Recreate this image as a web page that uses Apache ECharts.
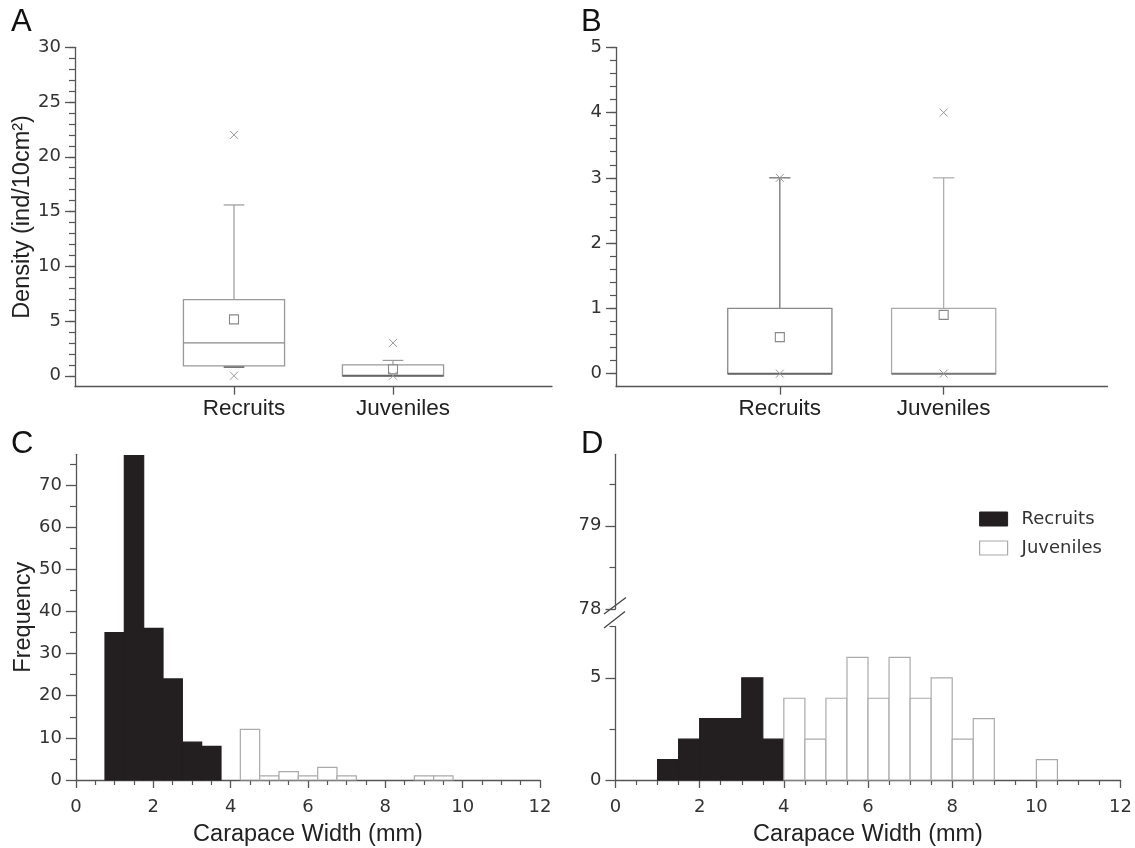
<!DOCTYPE html>
<html><head><meta charset="utf-8">
<script src="https://cdn.jsdelivr.net/npm/echarts@6/dist/echarts.min.js"></script>
<style>html,body{margin:0;padding:0;background:#fff}#c{width:1135px;height:848px}</style>
</head><body><div id="c"></div>
<script>
// ---------- data ----------
const groups = ['Recruits', 'Juveniles'];
const groupPos = [1, 2];
// Panel A – density box plots
const aQ1 = [0.9, 0];
const aMedian = [3, 0];
const aQ3 = [6.95, 1];
const aWhiskerLow = [0.8, 0];
const aWhiskerHigh = [15.6, 1.4];
const aMean = [5.15, 0.58];
const aMax = [22, 3];
const aMin = [0, 0];
// Panel B
const bQ1 = [0, 0];
const bMedian = [0, 0];
const bQ3 = [1, 1];
const bWhiskerLow = [0, 0];
const bWhiskerHigh = [3, 3];
const bMean = [0.56, 0.9];
const bMax = [3, 4];
const bMin = [0, 0];
// Panel C – histogram (bin centres, width 0.5)
const cRecruitsCenter = [1, 1.5, 2, 2.5, 3, 3.5];
const cRecruitsFreq = [35, 77, 36, 24, 9, 8];
const cJuvenilesCenter = [4.5, 5, 5.5, 6, 6.5, 7, 9, 9.5];
const cJuvenilesFreq = [12, 1, 2, 1, 3, 1, 1, 1];
// Panel D – histogram (bin starts, width 0.5)
const dRecruitsStart = [1, 1.5, 2, 2.5, 3, 3.5];
const dRecruitsFreq = [1, 2, 3, 3, 5, 2];
const dJuvenilesStart = [4, 4.5, 5, 5.5, 6, 6.5, 7, 7.5, 8, 8.5, 10];
const dJuvenilesFreq = [4, 2, 4, 6, 4, 6, 4, 5, 2, 3, 1];
const binWidth = 0.5;
// ticks
const aYMajor = [0, 5, 10, 15, 20, 25, 30];
const aYMinor = [0,1,2,3,4,5,6,7,8,9,10,11,12,13,14,15,16,17,18,19,20,21,22,23,24,25,26,27,28,29,30];
const bYMajor = [0, 1, 2, 3, 4, 5];
const bYMinor = [0,0.2,0.4,0.6,0.8,1,1.2,1.4,1.6,1.8,2,2.2,2.4,2.6,2.8,3,3.2,3.4,3.6,3.8,4,4.2,4.4,4.6,4.8,5];
const cYMajor = [0, 10, 20, 30, 40, 50, 60, 70];
const cYMinor = [5, 15, 25, 35, 45, 55, 65, 75];
const dLowMajor = [0, 5];
const dLowMinor = [2.5, 7.5];
const dHighMajor = [78, 79];
const dHighMinor = [78.5, 79.5];

// ---------- styling helpers ----------
const AX = '#555';
const TICKFONT = {fontFamily: 'DejaVu Sans', fontSize: 18, color: '#333'};
const NAMEFONT = {fontFamily: 'Liberation Sans', fontSize: 23.5, color: '#222'};
const halfBox = 0.318, halfCap = 0.065;

function yMain(grid, min, max, ticks, extra) {
  return Object.assign({
    type: 'value', gridIndex: grid, min, max, position: 'left',
    axisLine: {show: true, onZero: false, lineStyle: {color: AX, width: 1.3}},
    axisTick: {show: true, customValues: ticks, length: 10, lineStyle: {color: AX, width: 1.3}},
    axisLabel: {show: true, customValues: ticks, margin: 14, ...TICKFONT},
    splitLine: {show: false}
  }, extra || {});
}
function yMinor(grid, min, max, ticks) {
  return {
    type: 'value', gridIndex: grid, min, max, position: 'left', offset: 0,
    axisLine: {show: false},
    axisTick: {show: true, customValues: ticks, length: 6, lineStyle: {color: AX, width: 1.2}},
    axisLabel: {show: false}, splitLine: {show: false}
  };
}
function xCat(grid, shift) {
  return {
    type: 'value', gridIndex: grid, min: 0, max: 3,
    axisLine: {show: true, onZero: false, lineStyle: {color: AX, width: 1.3}},
    axisTick: {show: true, customValues: groupPos, length: 8, lineStyle: {color: AX, width: 1.3}},
    axisLabel: {show: true, customValues: groupPos, margin: 11,
      formatter: v => groups[Math.round(v) - 1] || '',
      padding: [0, 0, 0, shift],
      fontFamily: 'Liberation Sans', fontSize: 22.5, color: '#222'},
    splitLine: {show: false}
  };
}
function xWidth(grid) {
  return {
    type: 'value', gridIndex: grid, min: 0, max: 12, interval: 2,
    name: 'Carapace Width (mm)', nameLocation: 'middle', nameGap: 43, nameTextStyle: NAMEFONT,
    axisLine: {show: true, onZero: false, lineStyle: {color: AX, width: 1.3}},
    axisTick: {show: true, length: 8, lineStyle: {color: AX, width: 1.3}},
    minorTick: {show: true, splitNumber: 4, length: 5, lineStyle: {color: AX, width: 1.2}},
    axisLabel: {show: true, margin: 18, ...TICKFONT},
    splitLine: {show: false}, minorSplitLine: {show: false}
  };
}

function boxData(q1, med, q3, wl, wh, mean, mx, mn) {
  return groups.map((g, i) => [groupPos[i], q1[i], med[i], q3[i], wl[i], wh[i], mean[i], mx[i], mn[i]]);
}
function makeBoxRender(st) {
  return function (params, api) {
    const i = params.dataIndex;
    const x = api.value(0), q1 = api.value(1), med = api.value(2), q3 = api.value(3),
          wl = api.value(4), wh = api.value(5), mean = api.value(6), mx = api.value(7), mn = api.value(8);
    const c = (a, b) => api.coord([a, b]);
    const line = (p, q, stroke, w) => ({type: 'line', shape: {x1: p[0], y1: p[1], x2: q[0], y2: q[1]}, style: {stroke, lineWidth: w || 1.2}});
    const kids = [];
    if (wh > q3) kids.push(line(c(x, q3), c(x, wh), st.whisker[i]));
    kids.push(line(c(x - halfCap, wh), c(x + halfCap, wh), st.whisker[i]));
    if (wl < q1) {
      kids.push(line(c(x, q1), c(x, wl), st.whisker[i]));
      kids.push(line(c(x - halfCap, wl), c(x + halfCap, wl), st.lowCap[i], 1.8));
    }
    const tl = c(x - halfBox, q3), br = c(x + halfBox, q1);
    kids.push({type: 'rect', shape: {x: tl[0], y: tl[1], width: br[0] - tl[0], height: br[1] - tl[1]},
      style: {fill: 'rgba(255,255,255,0)', stroke: st.box[i], lineWidth: 1.3}});
    kids.push(line(c(x - halfBox, med), c(x + halfBox, med), st.median[i], med <= q1 ? 2 : 1.3));
    const pm = c(x, mean);
    kids.push({type: 'rect', shape: {x: pm[0] - 4.5, y: pm[1] - 4.5, width: 9, height: 9},
      style: {fill: '#fff', stroke: '#888', lineWidth: 1.1}});
    [mx, mn].forEach(v => {
      const p = c(x, v);
      kids.push(line([p[0] - 4, p[1] - 4], [p[0] + 4, p[1] + 4], '#999', 1));
      kids.push(line([p[0] - 4, p[1] + 4], [p[0] + 4, p[1] - 4], '#999', 1));
    });
    return {type: 'group', children: kids};
  };
}
function histFromCenters(centers, freq) {
  return centers.map((m, i) => [m - binWidth / 2, m + binWidth / 2, freq[i]]);
}
function histFromStarts(starts, freq) {
  return starts.map((s, i) => [s, s + binWidth, freq[i]]);
}
function makeHistRender(fill, stroke) {
  return function (params, api) {
    const a = api.coord([api.value(0), api.value(2)]);
    const b = api.coord([api.value(1), 0]);
    return {type: 'rect', shape: {x: a[0], y: a[1], width: b[0] - a[0], height: b[1] - a[1]},
      style: {fill, stroke, lineWidth: 1.2}};
  };
}

const BLACK = '#231f20', WSTROKE = '#aaa';
const letter = (t, x, y) => ({type: 'text', left: x, top: y,
  style: {text: t, fontFamily: 'Liberation Sans', fontSize: 31, fill: '#111'}});
const slash = (x1, y1, x2, y2) => ({type: 'line', shape: {x1, y1, x2, y2}, style: {stroke: '#444', lineWidth: 1.3}});

const option = {
  backgroundColor: '#fff',
  animation: false,
  grid: [
    {left: 75, top: 47.3, width: 477, height: 339.4},
    {left: 616, top: 47.3, width: 491.5, height: 339.4},
    {left: 76, top: 454.3, width: 464, height: 326.7},
    {left: 615.5, top: 626.7, width: 508, height: 155.3},
    {left: 615.5, top: 454.3, width: 508, height: 154.7}
  ],
  xAxis: [
    xCat(0, 20), xCat(1, 0), xWidth(2), xWidth(3),
    {type: 'value', gridIndex: 4, min: 0, max: 12, show: false}
  ],
  yAxis: [
    yMain(0, -1, 30, aYMajor, {name: 'Density (ind/10cm²)', nameLocation: 'middle', nameGap: 38, nameTextStyle: NAMEFONT}),
    yMinor(0, -1, 30, aYMinor),
    yMain(1, -0.2, 5, bYMajor),
    yMinor(1, -0.2, 5, bYMinor),
    yMain(2, 0, 77.3, cYMajor, {name: 'Frequency', nameLocation: 'middle', nameGap: 39, nameTextStyle: NAMEFONT}),
    yMinor(2, 0, 77.3, cYMinor),
    yMain(3, 0, 7.5, dLowMajor),
    yMinor(3, 0, 7.5, dLowMinor),
    yMain(4, 78, 79.86, dHighMajor),
    yMinor(4, 78, 79.86, dHighMinor)
  ],
  legend: {
    orient: 'vertical', left: 974, top: 505, itemWidth: 28, itemHeight: 14, itemGap: 11,
    icon: 'rect', selectedMode: false,
    textStyle: {fontFamily: 'DejaVu Sans', fontSize: 18, color: '#333', padding: [0, 0, 0, 9]},
    data: [
      {name: 'Recruits', itemStyle: {color: BLACK, borderColor: BLACK, borderWidth: 1}},
      {name: 'Juveniles', itemStyle: {color: '#fff', borderColor: WSTROKE, borderWidth: 1.2}}
    ]
  },
  series: [
    {type: 'custom', name: 'A', xAxisIndex: 0, yAxisIndex: 0,
      data: boxData(aQ1, aMedian, aQ3, aWhiskerLow, aWhiskerHigh, aMean, aMax, aMin),
      encode: {x: 0, y: [1, 2, 3, 4, 5, 6, 7, 8]},
      renderItem: makeBoxRender({box: ['#999', '#999'], whisker: ['#999', '#999'], median: ['#888', '#666'], lowCap: ['#666', '#666']})},
    {type: 'custom', name: 'B', xAxisIndex: 1, yAxisIndex: 2,
      data: boxData(bQ1, bMedian, bQ3, bWhiskerLow, bWhiskerHigh, bMean, bMax, bMin),
      encode: {x: 0, y: [1, 2, 3, 4, 5, 6, 7, 8]},
      renderItem: makeBoxRender({box: ['#888', '#aaa'], whisker: ['#666', '#aaa'], median: ['#666', '#777'], lowCap: ['#666', '#666']})},
    {type: 'custom', name: 'Recruits C', xAxisIndex: 2, yAxisIndex: 4,
      data: histFromCenters(cRecruitsCenter, cRecruitsFreq), encode: {x: [0, 1], y: 2},
      renderItem: makeHistRender(BLACK, BLACK)},
    {type: 'custom', name: 'Juveniles C', xAxisIndex: 2, yAxisIndex: 4,
      data: histFromCenters(cJuvenilesCenter, cJuvenilesFreq), encode: {x: [0, 1], y: 2},
      renderItem: makeHistRender('#fff', WSTROKE)},
    {type: 'custom', name: 'Recruits', xAxisIndex: 3, yAxisIndex: 6,
      itemStyle: {color: BLACK},
      data: histFromStarts(dRecruitsStart, dRecruitsFreq), encode: {x: [0, 1], y: 2},
      renderItem: makeHistRender(BLACK, BLACK)},
    {type: 'custom', name: 'Juveniles', xAxisIndex: 3, yAxisIndex: 6,
      itemStyle: {color: '#fff', borderColor: WSTROKE},
      data: histFromStarts(dJuvenilesStart, dJuvenilesFreq), encode: {x: [0, 1], y: 2},
      renderItem: makeHistRender('#fff', WSTROKE)}
  ],
  graphic: [
    letter('A', 11, 7), letter('B', 581, 7), letter('C', 11, 429), letter('D', 581, 429),
    slash(604, 614, 626, 597.5), slash(604, 628, 625, 611.5)
  ]
};
const chart = echarts.init(document.getElementById('c'), null, {renderer: 'canvas'});
chart.setOption(option);
</script></body></html>
